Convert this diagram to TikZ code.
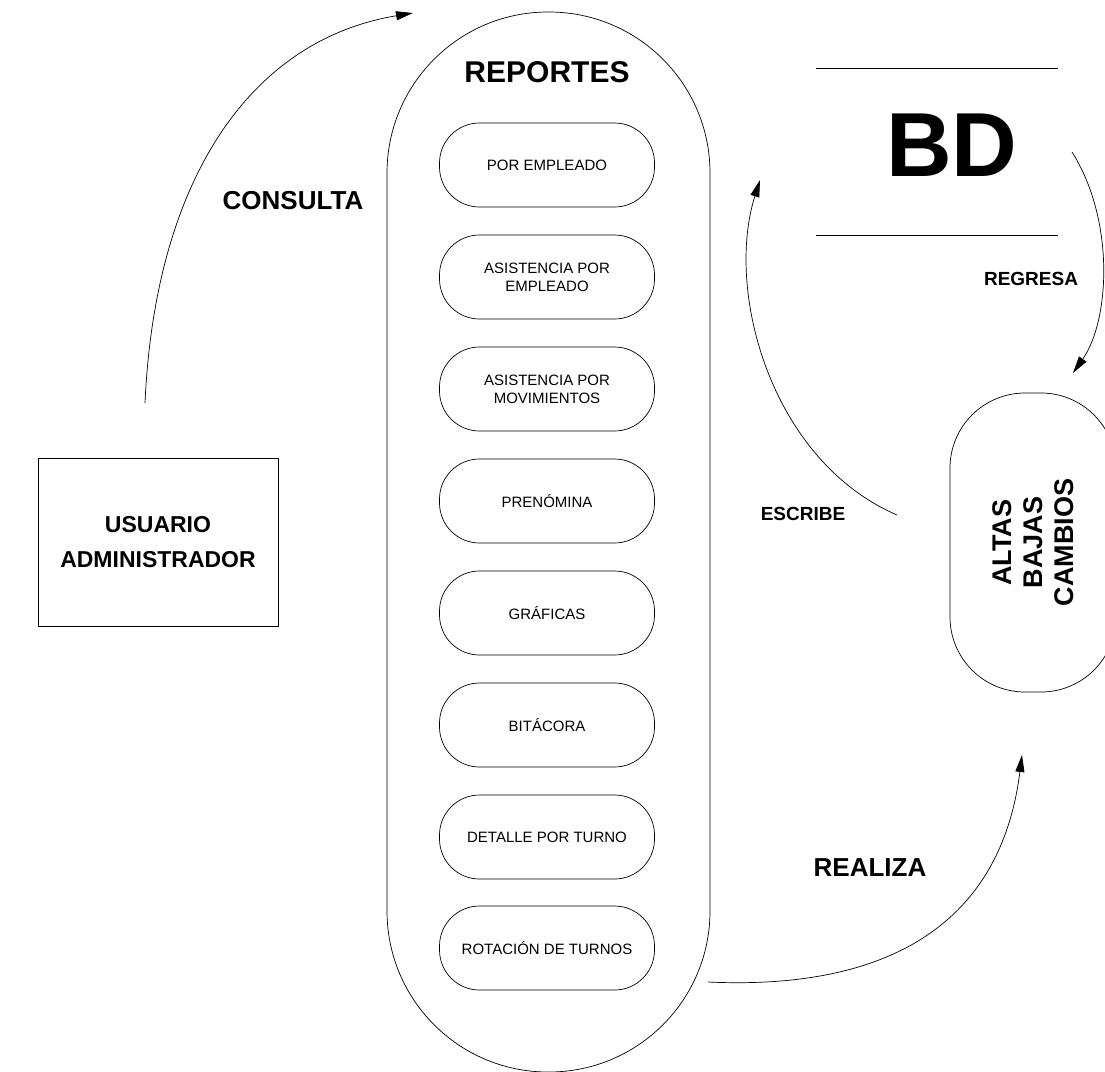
\documentclass[tikz,border=0pt]{standalone}
\usepackage{fontspec}
\setmainfont{Liberation Sans}
\usepackage{tikz}
\usetikzlibrary{arrows.meta, calc}

\tikzset{
  reporte/.style={draw, rounded corners=40pt, minimum width=215pt, minimum height=84pt,
    align=center, font=\fontsize{15}{18}\selectfont},
  etiqueta/.style={font=\bfseries\fontsize{19}{22}\selectfont},
  etiquetagrande/.style={font=\bfseries\fontsize{26}{30}\selectfont},
  flecha/.style={-{Triangle[length=17pt,width=9pt]}, line width=0.7pt},
}

\begin{document}
\begin{tikzpicture}[x=1pt, y=-1pt, line width=0.7pt, line join=round]
  \useasboundingbox (0,0) rectangle (1105,1071);

  % Usuario
  \node[draw, minimum width=240pt, minimum height=168pt, align=center,
        font=\bfseries\fontsize{23}{35}\selectfont] (usuario) at (158,542) {USUARIO\\ADMINISTRADOR};

  % Reportes container and title
  \node[draw, rounded corners=161pt, minimum width=323pt, minimum height=1060pt] (reportes) at (548.5,542) {};
  \node[font=\bfseries\fontsize{30}{34}\selectfont] (titulo) at (547,72) {REPORTES};

  % Individual reports
  \node[reporte] (r1) at (547,165) {POR EMPLEADO};
  \node[reporte] (r2) at (547,277) {ASISTENCIA POR\\EMPLEADO};
  \node[reporte] (r3) at (547,389) {ASISTENCIA POR\\MOVIMIENTOS};
  \node[reporte] (r4) at (547,501) {PRENÓMINA};
  \node[reporte] (r5) at (547,613) {GRÁFICAS};
  \node[reporte] (r6) at (547,725) {BITÁCORA};
  \node[reporte] (r7) at (547,837) {DETALLE POR TURNO};
  \node[reporte] (r8) at (547,948) {ROTACIÓN DE TURNOS};

  % Data store
  \node[font=\bfseries\fontsize{91}{96}\selectfont] (bd) at (952,145) {BD};
  \draw (816,68) -- (1058,68);
  \draw (816,235) -- (1058,235);

  % Altas / bajas / cambios
  \node[draw, rotate=90, rounded corners=75pt, minimum width=299pt, minimum height=166pt,
        align=center, font=\bfseries\fontsize{27}{31}\selectfont] (abc) at (1033,542.5) {ALTAS\\BAJAS\\CAMBIOS};

  % Free ends of the connectors
  \coordinate (consultaIni) at (145,403);
  \coordinate (consultaFin) at (413,13);
  \coordinate (escribeIni) at (897,515);
  \coordinate (escribeFin) at (760,180);
  \coordinate (regresaIni) at (1072,152);
  \coordinate (regresaFin) at (1073,373);
  \coordinate (realizaIni) at (708,982);
  \coordinate (realizaFin) at (1022,755);

  % Connectors
  \draw[flecha] (consultaIni) .. controls (155,180) and (250,40) .. (consultaFin);
  \draw[flecha] (escribeIni) .. controls (770,460) and (725,290) .. (escribeFin);
  \draw[flecha] (regresaIni) .. controls (1115,220) and (1110,320) .. (regresaFin);
  \draw[flecha] (realizaIni) .. controls (880,990) and (1000,930) .. (realizaFin);

  % Connector labels
  \node[etiquetagrande] (consulta) at (293,201) {CONSULTA};
  \node[etiqueta] (escribe) at (803,514) {ESCRIBE};
  \node[etiqueta] (regresa) at (1031,279) {REGRESA};
  \node[etiquetagrande] (realiza) at (870,868) {REALIZA};
\end{tikzpicture}
\end{document}
